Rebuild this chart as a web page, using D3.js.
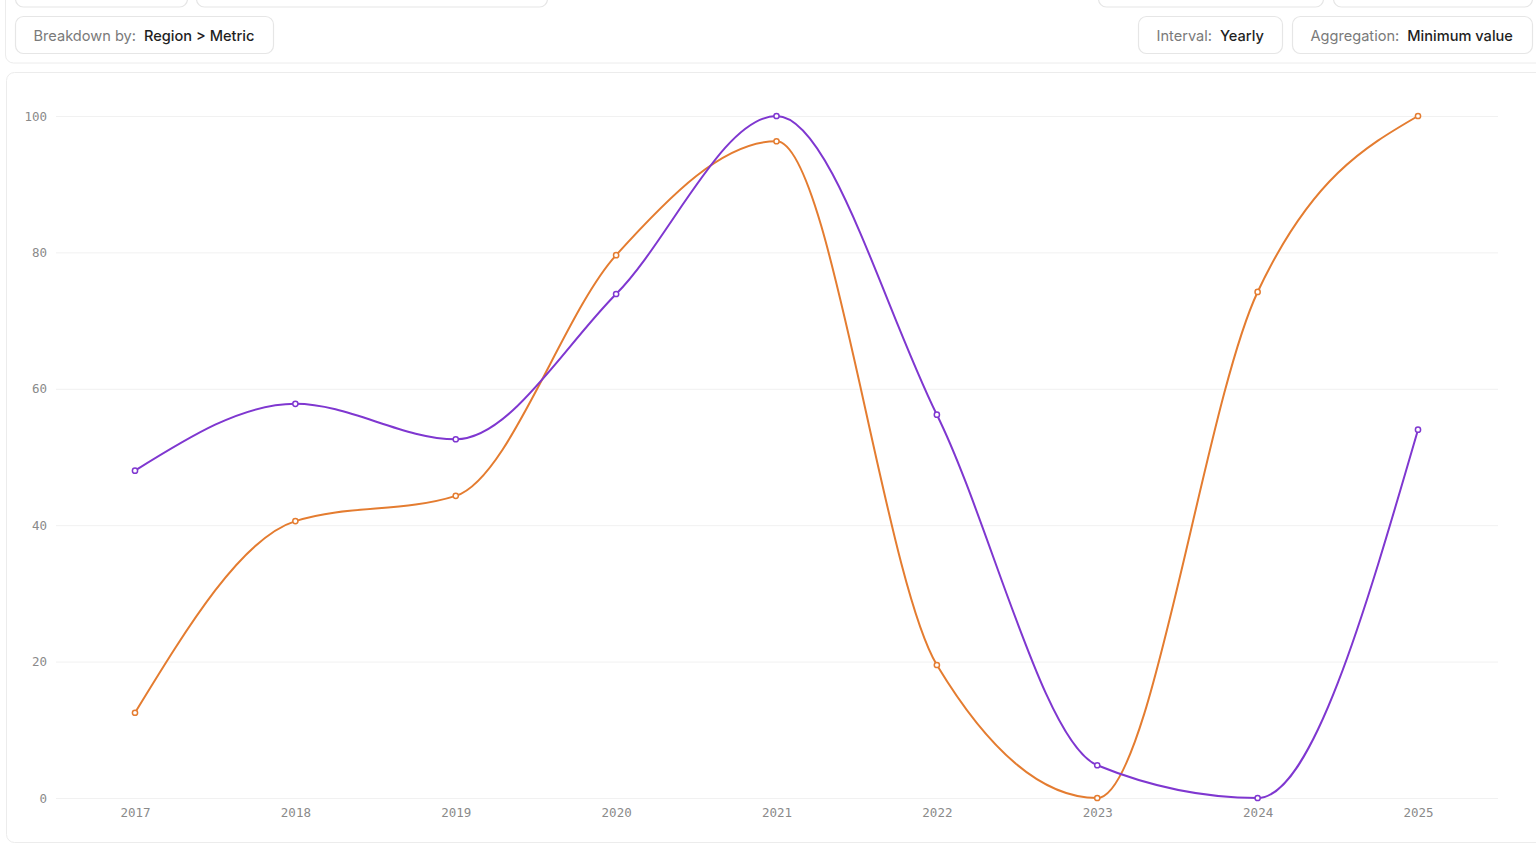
<!DOCTYPE html>
<html>
<head>
<meta charset="utf-8">
<script src="https://cdn.jsdelivr.net/npm/d3@7"></script>
<style>
  html, body { margin: 0; padding: 0; background: #fff; overflow: hidden; }
  svg { display: block; }
  .btn rect { fill: #fff; stroke: #e6e6e6; stroke-width: 1.2; }
  .btn .lbl { fill: #7a7a7a; font-family: Inter, "Open Sans", sans-serif; font-size: 14.6px; }
  .btn .val { fill: #1f1f1f; font-family: Inter, "Open Sans", sans-serif; font-size: 14.6px; font-weight: 500; }
  .axis text { fill: #8a8a8a; font-family: "DejaVu Sans Mono", "Liberation Mono", monospace; font-size: 12.5px; }
  .grid line { stroke: #f1f1f1; stroke-width: 1; }
</style>
</head>
<body>
<div id="chart"></div>
<script>
var years = ["2017", "2018", "2019", "2020", "2021", "2022", "2023", "2024", "2025"];
var purpleValues = [48, 57.8, 52.6, 73.9, 100, 56.2, 4.8, 0, 54];
var orangeValues = [12.5, 40.6, 44.3, 79.6, 96.3, 19.5, 0, 74.2, 100];
var yTicks = [0, 20, 40, 60, 80, 100];
var filters = [
    {label: "Breakdown by:", value: "Region > Metric"},
    {label: "Interval:", value: "Yearly"},
    {label: "Aggregation:", value: "Minimum value"}
];

var width = 1536,
    height = 862,
    colors = {purple: "#7f37d0", orange: "#e47c30"};

var svg = d3.select("#chart").append("svg")
    .attr("width", width)
    .attr("height", height);

// filter panel card (top part scrolled off)
svg.append("rect")
    .attr("x", 5.5).attr("y", -30)
    .attr("width", width + 20).attr("height", 93)
    .attr("rx", 8)
    .attr("fill", "#fff").attr("stroke", "#ececec");

// truncated buttons of the first row
var cutButtons = [[15, 172], [196, 351], [1098, 225], [1333, 199]];
svg.selectAll(".cut").data(cutButtons).enter().append("rect")
    .attr("class", "cut")
    .attr("x", function(d) { return d[0] + 0.5; })
    .attr("y", -30)
    .attr("width", function(d) { return d[1]; })
    .attr("height", 37)
    .attr("rx", 8)
    .attr("fill", "#fff").attr("stroke", "#e6e6e6").attr("stroke-width", 1.2);

var btnPos = [{x: 15, w: 258}, {x: 1138, w: 144}, {x: 1292, w: 240}];

filters.forEach(function(f, i) {
    var g = svg.append("g")
        .attr("class", "btn")
        .attr("transform", "translate(" + (btnPos[i].x + 0.5) + ",16.5)");
    g.append("rect")
        .attr("width", btnPos[i].w)
        .attr("height", 37)
        .attr("rx", 8);
    var t = g.append("text").attr("x", 18).attr("y", 24);
    t.append("tspan").attr("class", "lbl").text(f.label);
    t.append("tspan").attr("class", "val").attr("dx", 8).text(f.value);
});

// chart card
svg.append("rect")
    .attr("x", 6.5).attr("y", 72.5)
    .attr("width", width + 20).attr("height", 770)
    .attr("rx", 8)
    .attr("fill", "#fff").attr("stroke", "#ececec");

var x = d3.scalePoint()
    .domain(years)
    .range([135, 1418]);

var y = d3.scaleLinear()
    .domain([0, 100])
    .range([798, 116]);

var grid = svg.append("g").attr("class", "grid");
grid.selectAll("line").data(yTicks).enter().append("line")
    .attr("x1", 56).attr("x2", 1498)
    .attr("y1", function(d) { return y(d) + 0.5; })
    .attr("y2", function(d) { return y(d) + 0.5; });

var yAxis = svg.append("g")
    .attr("class", "axis")
    .attr("transform", "translate(47,0)")
    .call(d3.axisLeft(y).tickValues(yTicks).tickSize(0).tickPadding(0));
yAxis.select(".domain").remove();

var xAxis = svg.append("g")
    .attr("class", "axis")
    .attr("transform", "translate(0,798)")
    .call(d3.axisBottom(x).tickSize(0).tickPadding(10));
xAxis.select(".domain").remove();

var line = d3.line()
    .x(function(d, i) { return x(years[i]); })
    .y(function(d) { return y(d); })
    .curve(d3.curveMonotoneX);

var series = [
    {name: "orange", values: orangeValues},
    {name: "purple", values: purpleValues}
];

series.forEach(function(s) {
    svg.append("path")
        .datum(s.values)
        .attr("fill", "none")
        .attr("stroke", colors[s.name])
        .attr("stroke-width", 2)
        .attr("d", line);

    svg.append("g").selectAll("circle")
        .data(s.values)
        .enter().append("circle")
        .attr("cx", function(d, i) { return x(years[i]); })
        .attr("cy", function(d) { return y(d); })
        .attr("r", 2.6)
        .attr("fill", "#fff")
        .attr("stroke", colors[s.name])
        .attr("stroke-width", 1.5);
});
</script>
</body>
</html>
